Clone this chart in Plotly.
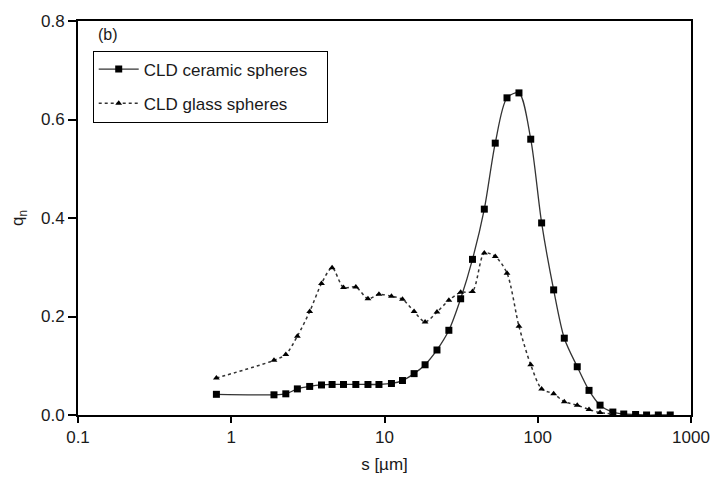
import plotly.graph_objects as go

# Chord length (s, µm) positions
x_ceramic = [0.8, 1.9, 2.27, 2.7, 3.25, 3.88, 4.55, 5.4, 6.5, 7.8, 9.2, 11.1, 13.1, 15.6,
             18.4, 22.0, 26.3, 31.4, 37.5, 44.8, 52.8, 63.0, 75.4, 90.0, 106, 127, 149,
             181, 216, 255, 309, 364, 435, 513, 612, 732]
y_ceramic = [0.042, 0.041, 0.043, 0.053, 0.058, 0.061, 0.062, 0.062, 0.062, 0.062, 0.062,
             0.064, 0.070, 0.084, 0.102, 0.132, 0.172, 0.236, 0.316, 0.418, 0.552, 0.644,
             0.654, 0.560, 0.390, 0.254, 0.156, 0.098, 0.050, 0.020, 0.006, 0.002, 0.001,
             0.0, 0.0, 0.0]

x_glass = [0.8, 1.9, 2.27, 2.7, 3.25, 3.88, 4.55, 5.4, 6.5, 7.8, 9.2, 11.1, 13.1, 15.6,
           18.4, 22.0, 26.3, 31.4, 37.5, 44.8, 52.8, 63.0, 75.4, 90.0, 106, 127, 149,
           181, 216, 255, 309]
y_glass = [0.075, 0.111, 0.123, 0.160, 0.210, 0.267, 0.299, 0.259, 0.260, 0.236, 0.245,
           0.241, 0.235, 0.210, 0.189, 0.209, 0.233, 0.249, 0.251, 0.329, 0.322, 0.288,
           0.180, 0.102, 0.053, 0.043, 0.027, 0.020, 0.011, 0.005, 0.002]

y_ticks = [0.0, 0.2, 0.4, 0.6, 0.8]
y_ticklabels = ["0.0", "0.2", "0.4", "0.6", "0.8"]
x_ticks = [0.1, 1, 10, 100, 1000]
x_ticklabels = ["0.1", "1", "10", "100", "1000"]

FONT = "Liberation Sans, Arial, sans-serif"
INK = "#1a1a1a"
PAD = "\u00a0" * 3  # trailing space to widen the legend box

fig = go.Figure()
fig.add_trace(go.Scatter(
    x=x_ceramic, y=y_ceramic, mode="lines+markers", name="CLD ceramic spheres" + PAD,
    legendgroup="a",
    line=dict(color="#333333", width=1.3, shape="spline", smoothing=0.8),
    marker=dict(symbol="square", size=7, color="black"),
))
fig.add_trace(go.Scatter(
    x=x_glass, y=y_glass, mode="lines+markers", name="CLD glass spheres",
    legendgroup="b",
    line=dict(color="#333333", width=1.5, dash="dot", shape="spline", smoothing=0.8),
    marker=dict(symbol="triangle-up", size=6, color="black"),
))

fig.update_layout(
    width=722, height=483,
    margin=dict(l=78, r=23, t=15, b=68),
    paper_bgcolor="white", plot_bgcolor="white",
    font=dict(family=FONT, size=17, color=INK),
    showlegend=True,
    legend=dict(
        x=0.024, y=0.925, xanchor="left", yanchor="top",
        bordercolor="black", borderwidth=1, bgcolor="white",
        font=dict(size=17, color=INK), traceorder="grouped", tracegroupgap=9,
        itemwidth=40,
    ),
    annotations=[dict(
        text="(b)", xref="paper", yref="paper", x=0.03, y=0.965,
        xanchor="left", yanchor="middle", showarrow=False,
        font=dict(size=16, color=INK),
    )],
)

fig.update_xaxes(
    type="log", range=[-1, 3],
    tickvals=x_ticks, ticktext=x_ticklabels,
    ticks="outside", ticklen=6, tickwidth=1.5, tickcolor="black",
    showline=True, linecolor="black", linewidth=2, mirror=True,
    showgrid=False, zeroline=False,
    tickfont=dict(size=17, color=INK),
    title=dict(text="s [µm]", font=dict(size=17, color=INK), standoff=12),
)
fig.update_yaxes(
    range=[0, 0.8],
    tickvals=y_ticks, ticktext=y_ticklabels,
    ticks="outside", ticklen=8, tickwidth=1.5, tickcolor="black",
    showline=True, linecolor="black", linewidth=2, mirror=True,
    showgrid=False, zeroline=False,
    tickfont=dict(size=17, color=INK),
    title=dict(text="q<sub>n</sub>", font=dict(size=17, color=INK), standoff=13),
)

fig.write_html("out.html")
